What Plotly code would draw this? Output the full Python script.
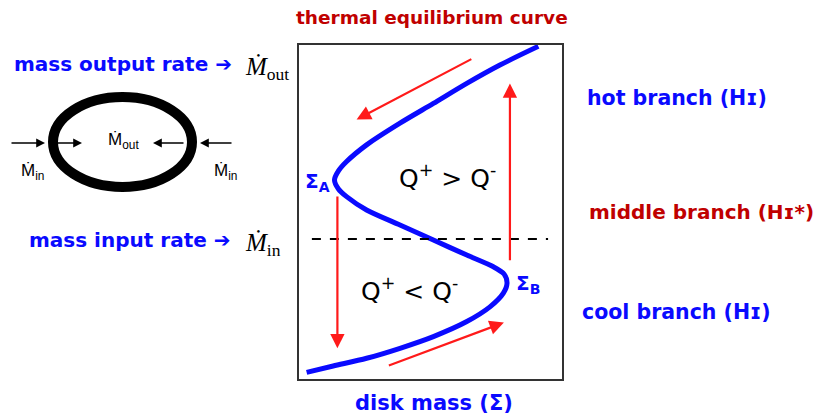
import plotly.graph_objects as go

# ---- data ----
# thermal equilibrium S-curve: disk mass (Sigma) vs mass rate (Mdot), axis units 0-100
sigma = [2.9, 13.0, 25.7, 38.4, 51.1, 63.8, 72.6, 77.7, 79.1, 78.0, 73.9, 63.8, 51.1,
         38.4, 25.7, 18.1, 15.0, 13.5, 15.0, 18.1, 25.7, 38.4, 51.1, 63.8, 76.4, 91.0]
mdot = [2.0, 3.9, 6.2, 9.2, 12.7, 17.2, 21.6, 25.7, 28.7, 31.4, 33.6, 37.1, 41.6,
        46.1, 50.6, 54.6, 56.9, 59.6, 62.3, 65.1, 70.1, 76.6, 82.5, 88.5, 94.0, 99.6]

# mass input rate level (dashed line)
mdot_in = 41.9
dash_sigma = [4.9, 94.7]

# limit-cycle arrows (tail -> head)
arrow_x0 = [14.6, 80.2, 66.1, 33.6]
arrow_y0 = [55.1, 35.1, 96.0, 3.9]
arrow_x1 = [14.6, 80.2, 21.9, 77.9]
arrow_y1 = [9.2, 88.5, 77.7, 16.9]

branch_labels = ["hot branch (Hɪ)", "middle branch (Hɪ*)", "cool branch (Hɪ)"]

BLUE = "#0a0aff"
DRED = "#c00000"
RED = "#ff1a1a"
FONT = "DejaVu Sans"

# plot box in pixels (reference picture)
L, R, T, B = 299, 562, 45, 379
W, H = 823, 419
OFF = 8  # page body margin


def px(p):
    return (p - L) / (R - L)


def py(p):
    return (B - p) / (B - T)


fig = go.Figure()
fig.add_trace(go.Scatter(x=sigma, y=mdot, mode="lines",
                         line=dict(color=BLUE, width=5, shape="spline", smoothing=0.8),
                         hoverinfo="skip", showlegend=False))
fig.add_trace(go.Scatter(x=dash_sigma, y=[mdot_in, mdot_in], mode="lines",
                         line=dict(color="black", width=2, dash="dash"),
                         hoverinfo="skip", showlegend=False))

ann = []
for x0, y0, x1, y1 in zip(arrow_x0, arrow_y0, arrow_x1, arrow_y1):
    ann.append(dict(x=x1, y=y1, ax=x0, ay=y0, xref="x", yref="y", axref="x", ayref="y",
                    text="", showarrow=True, arrowcolor=RED, arrowwidth=2.2,
                    arrowhead=2, arrowsize=1.3))


def txt(text, x, y, size, color, xanchor="center", family=FONT, bold=True):
    t = f"<b>{text}</b>" if bold else text
    ann.append(dict(text=t, x=px(x), y=py(y), xref="paper", yref="paper",
                    xanchor=xanchor, yanchor="middle", showarrow=False,
                    font=dict(family=family, size=size, color=color)))


txt("thermal equilibrium curve", 432, 17, 18.5, DRED)
txt("disk mass (Σ)", 434, 403, 21, BLUE)
txt(branch_labels[0], 585, 98, 20.5, BLUE, "left")
txt(branch_labels[1], 587, 212, 20, DRED, "left")
txt(branch_labels[2], 580, 312, 20.5, BLUE, "left")
txt("Q<sup>+</sup> &gt; Q<sup>-</sup>", 447, 176, 25, "black", bold=False)
txt("Q<sup>+</sup> &lt; Q<sup>-</sup>", 409, 289, 25, "black", bold=False)
txt("Σ<sub>A</sub>", 317, 182, 20, BLUE)
txt("Σ<sub>B</sub>", 528, 284, 20, BLUE)
txt("mass output rate ➔", 12, 64, 20, BLUE, "left")
txt("mass input rate ➔", 27, 240, 20, BLUE, "left")
txt("<i>Ṁ</i><sub>out</sub>", 243, 68, 25, "black", "left", "Liberation Serif", False)
txt("<i>Ṁ</i><sub>in</sub>", 243, 244, 25, "black", "left", "Liberation Serif", False)

# ring diagram labels
txt("Ṁ<sub>out</sub>", 123, 141, 17, "black", family="Liberation Sans", bold=False)
txt("Ṁ<sub>in</sub>", 32, 172, 17, "black", family="Liberation Sans", bold=False)
txt("Ṁ<sub>in</sub>", 225, 172, 17, "black", family="Liberation Sans", bold=False)

# ring diagram arrows (head x, tail x) at y = 143
for hx, tx in [(45, 10), (82, 55), (153, 185), (200, 233)]:
    ann.append(dict(x=px(hx), y=py(143), ax=tx - hx, ay=0, xref="paper", yref="paper",
                    text="", showarrow=True, arrowcolor="black", arrowwidth=1.6,
                    arrowhead=2, arrowsize=1.1))

shapes = [dict(type="circle", xref="paper", yref="paper",
               x0=px(53), x1=px(192), y0=py(187), y1=py(97),
               line=dict(color="black", width=10), fillcolor="rgba(0,0,0,0)")]

FW, FH = W - OFF, H - OFF
fig.update_layout(
    width=FW, height=FH, autosize=False,
    margin=dict(l=L - OFF, r=FW - (R - OFF), t=T - OFF, b=FH - (B - OFF)),
    paper_bgcolor="white", plot_bgcolor="white",
    annotations=ann, shapes=shapes, showlegend=False,
    xaxis=dict(range=[0, 100], showgrid=False, zeroline=False, showticklabels=False,
               ticks="", showline=True, mirror=True, linecolor="#333", linewidth=2),
    yaxis=dict(range=[0, 100], showgrid=False, zeroline=False, showticklabels=False,
               ticks="", showline=True, mirror=True, linecolor="#333", linewidth=2),
)

fig.write_html("out.html")
